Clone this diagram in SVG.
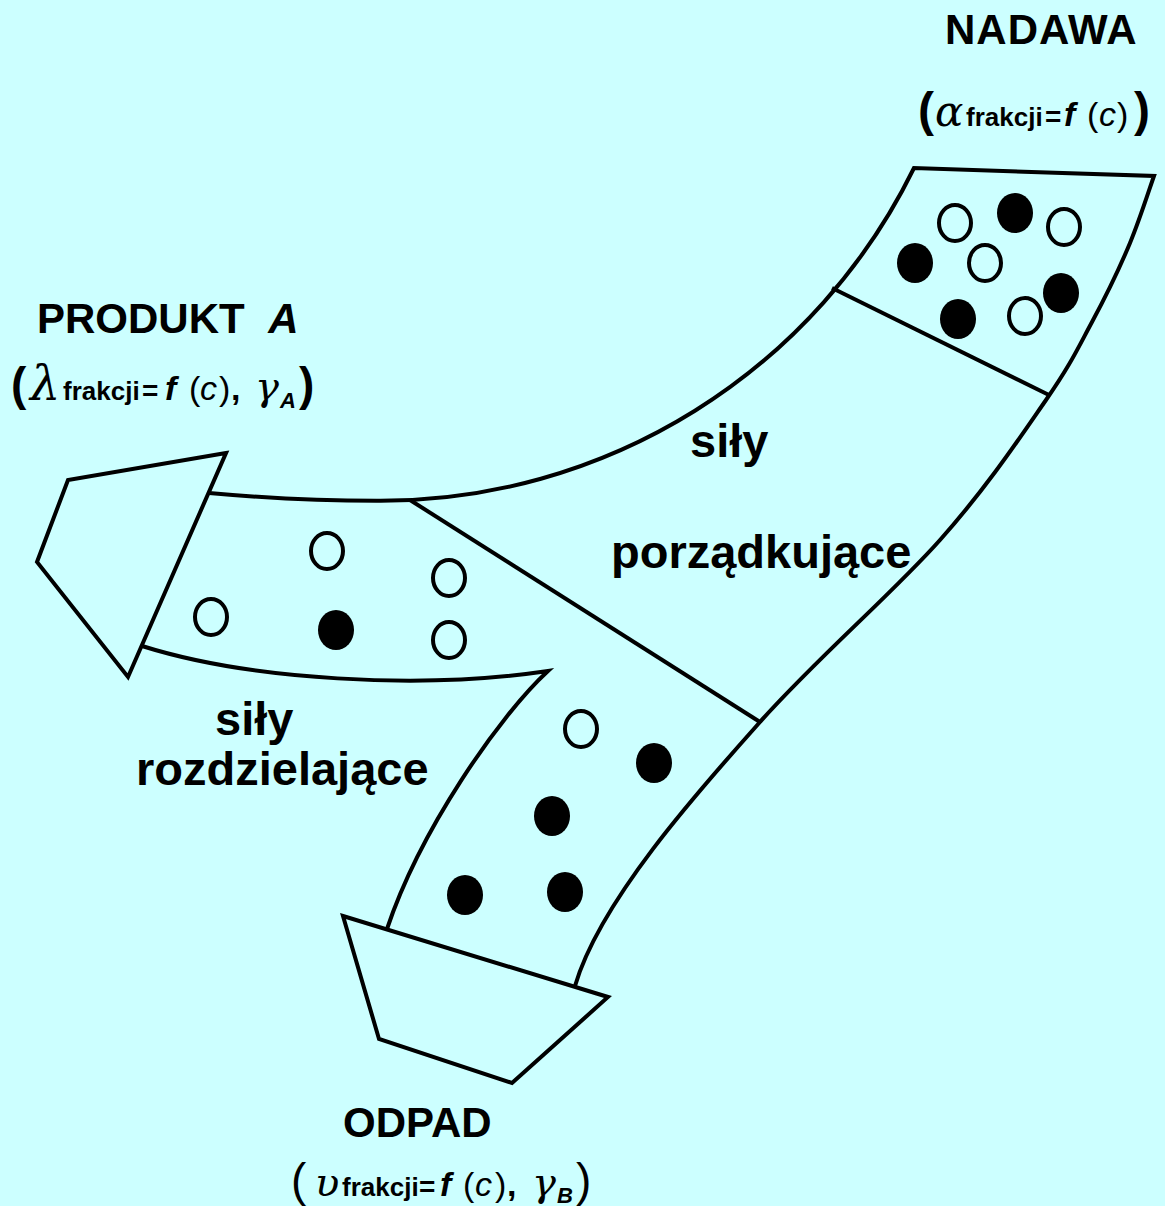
<svg xmlns="http://www.w3.org/2000/svg" width="1165" height="1206" viewBox="0 0 1165 1206">
  <style>
    .ln { fill: none; stroke: #000; stroke-width: 4; stroke-linejoin: miter; stroke-linecap: butt; }
    .box { fill: #ccffff; stroke: #000; stroke-width: 4; stroke-linejoin: miter; }
    .open { fill: none; stroke: #000; stroke-width: 4; }
    .full { fill: #000; }
    .t { font-family: "Liberation Sans", Arial, sans-serif; fill: #000; }
    .b { font-weight: bold; }
    .i { font-style: italic; }
    .gr { font-family: "DejaVu Serif", "Liberation Serif", serif; font-style: italic; }
    .head { font-size: 42px; font-weight: bold; }
    .force { font-size: 47px; font-weight: bold; }
    .sub { font-size: 26px; font-weight: bold; }
  </style>

  <rect width="1165" height="1206" fill="#ccffff"/>

  <!-- flow channel outline and section dividers -->
  <g id="connectors">
    <path class="ln" d="M209,493 Q300,501 380.6,500.8 A594,594 0 0 0 914,168 L1154,176 C1150,187 1140,219 1130,243 C1120,267 1106,296 1092,322 C1078,348 1071,364 1046,400 C1021,436 988,486 940,540 C892,594 818,657 760,722 C702,787 600,900 575,986"/>
    <path class="ln" d="M387,929 C420,830 500,715 548,671 C420,690 250,680 142,646"/>
    <line class="ln" x1="832" y1="288" x2="1049" y2="395"/>
    <line class="ln" x1="410" y1="500" x2="760" y2="722"/>
  </g>

  <!-- feed section -->
  <g id="nadawa">
    <text class="t head" x="945" y="44" letter-spacing="1">NADAWA</text>
    <text class="t" y="126">
      <tspan x="918" class="b" font-size="48">(</tspan>
      <tspan x="935" class="gr" font-size="42">α</tspan>
      <tspan x="966" class="sub">frakcji</tspan>
      <tspan x="1045" class="b" font-size="28">=</tspan>
      <tspan x="1064" class="b i" font-size="34">f</tspan>
      <tspan x="1087" font-size="34">(</tspan>
      <tspan x="1099" class="i" font-size="34">c</tspan>
      <tspan x="1117" font-size="34">)</tspan>
      <tspan x="1134" class="b" font-size="48">)</tspan>
    </text>
    <ellipse class="open" cx="955" cy="223" rx="16" ry="18"/>
    <ellipse class="full" cx="1015" cy="213" rx="18" ry="20"/>
    <ellipse class="open" cx="1064" cy="227" rx="16" ry="18"/>
    <ellipse class="full" cx="915" cy="263" rx="18" ry="20"/>
    <ellipse class="open" cx="985" cy="263" rx="16" ry="18"/>
    <ellipse class="full" cx="1061" cy="293" rx="18" ry="20"/>
    <ellipse class="full" cx="958" cy="319" rx="18" ry="20"/>
    <ellipse class="open" cx="1025" cy="316" rx="16" ry="18"/>
  </g>

  <!-- ordering forces label -->
  <g id="sily-porzadkujace">
    <text class="t force" x="690" y="457">siły</text>
    <text class="t force" x="611" y="568">porządkujące</text>
  </g>

  <!-- product outlet -->
  <g id="produkt">
    <path class="box" d="M226,453 L68,480 L37,562 L128,677 Z"/>
    <text class="t head" x="37" y="333">PRODUKT <tspan class="i" dx="12">A</tspan></text>
    <text class="t" y="400">
      <tspan x="11" class="b" font-size="46">(</tspan>
      <tspan x="30" class="gr" font-size="48">λ</tspan>
      <tspan x="63" class="sub">frakcji</tspan>
      <tspan x="142" class="b" font-size="28">=</tspan>
      <tspan x="165" class="b i" font-size="34">f</tspan>
      <tspan x="189" font-size="34">(</tspan>
      <tspan x="200" class="i" font-size="34">c</tspan>
      <tspan x="219" font-size="34">)</tspan>
      <tspan x="231" class="b" font-size="34">,</tspan>
      <tspan x="255" class="gr" font-size="40">γ</tspan>
      <tspan x="280" y="408" class="b i" font-size="22">A</tspan>
      <tspan x="299" y="400" class="b" font-size="46">)</tspan>
    </text>
    <ellipse class="open" cx="327" cy="551" rx="16" ry="18"/>
    <ellipse class="open" cx="449" cy="578" rx="16" ry="18"/>
    <ellipse class="open" cx="211" cy="617" rx="16" ry="18"/>
    <ellipse class="full" cx="336" cy="630" rx="18" ry="20"/>
    <ellipse class="open" cx="449" cy="640" rx="16" ry="18"/>
  </g>

  <!-- separating forces label -->
  <g id="sily-rozdzielajace">
    <text class="t force" x="215" y="735">siły</text>
    <text class="t force" x="136" y="785">rozdzielające</text>
  </g>

  <!-- waste outlet -->
  <g id="odpad">
    <path class="box" d="M343,916 L608,997 L512,1083 L379,1039 Z"/>
    <text class="t head" x="343" y="1137">ODPAD</text>
    <text class="t" y="1196">
      <tspan x="291" font-size="46">(</tspan>
      <tspan x="315" class="gr" font-size="40">υ</tspan>
      <tspan x="342" class="sub">frakcji</tspan>
      <tspan x="419" class="b" font-size="28">=</tspan>
      <tspan x="440" class="b i" font-size="34">f</tspan>
      <tspan x="463" font-size="34">(</tspan>
      <tspan x="475" class="i" font-size="34">c</tspan>
      <tspan x="495" font-size="34">)</tspan>
      <tspan x="507" class="b" font-size="34">,</tspan>
      <tspan x="532" class="gr" font-size="40">γ</tspan>
      <tspan x="557" y="1203" class="b i" font-size="22">B</tspan>
      <tspan x="576" y="1196" font-size="46">)</tspan>
    </text>
    <ellipse class="open" cx="581" cy="729" rx="16" ry="18"/>
    <ellipse class="full" cx="654" cy="763" rx="18" ry="20"/>
    <ellipse class="full" cx="552" cy="816" rx="18" ry="20"/>
    <ellipse class="full" cx="465" cy="895" rx="18" ry="20"/>
    <ellipse class="full" cx="565" cy="892" rx="18" ry="20"/>
  </g>
</svg>
